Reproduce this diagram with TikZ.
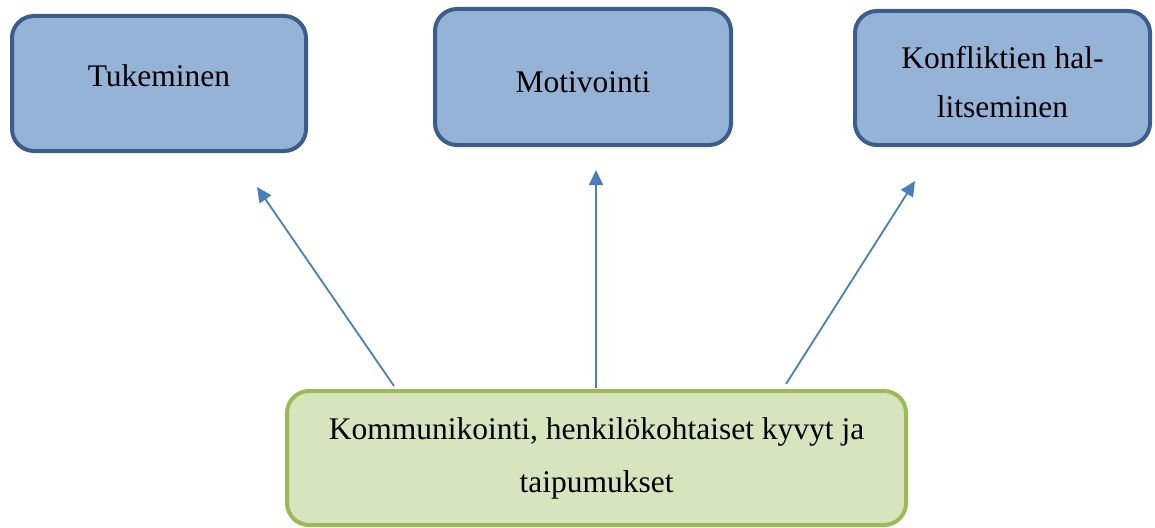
\documentclass[tikz,border=0pt]{standalone}
\usepackage{fontspec}
\setmainfont{Liberation Serif}
\usetikzlibrary{arrows.meta}
\definecolor{bluefill}{HTML}{95B3D7}
\definecolor{blueline}{HTML}{3A5D8C}
\definecolor{greenfill}{HTML}{D7E4BD}
\definecolor{greenline}{HTML}{9BBB59}
\definecolor{arrowcol}{HTML}{4A7EBB}
\tikzset{
  bluebox/.style={draw=blueline, fill=bluefill, line width=4pt, rounded corners=22pt,
    inner sep=0pt, align=center, font=\fontsize{31.5pt}{49pt}\selectfont},
  greenbox/.style={draw=greenline, fill=greenfill, line width=4pt, rounded corners=22pt,
    inner sep=0pt, align=center, font=\fontsize{31.5pt}{53pt}\selectfont},
  conn/.style={draw=arrowcol, line width=1.8pt, -{Triangle[length=15pt,width=14pt]}}
}
\begin{document}
\begin{tikzpicture}[x=1pt,y=-1pt]
\useasboundingbox (0,0) rectangle (1155,527);
\node[bluebox, minimum width=294pt, minimum height=135pt, text height=20pt, text depth=15pt]
  (tuk) at (159,83.5) {Tukeminen};
\node[bluebox, minimum width=296pt, minimum height=136pt, text height=33pt, text depth=3pt]
  (mot) at (583,77) {Motivointi};
\node[bluebox, minimum width=295pt, minimum height=134pt, text height=80pt, text depth=2pt]
  (kon) at (1002.5,78) {Konfliktien hal-\\litseminen};
\node[greenbox, minimum width=619pt, minimum height=134pt, text height=70pt, text depth=2pt]
  (kom) at (596.5,458) {Kommunikointi, henkilökohtaiset kyvyt ja\\taipumukset};
\coordinate (s1) at (394,386);
\coordinate (s2) at (596,388);
\coordinate (s3) at (786,384);
\coordinate (e1) at (257,187);
\coordinate (e2) at (596,170);
\coordinate (e3) at (915,181);
\draw[conn] (s1) -- (e1);
\draw[conn] (s2) -- (e2);
\draw[conn] (s3) -- (e3);
\end{tikzpicture}
\end{document}
